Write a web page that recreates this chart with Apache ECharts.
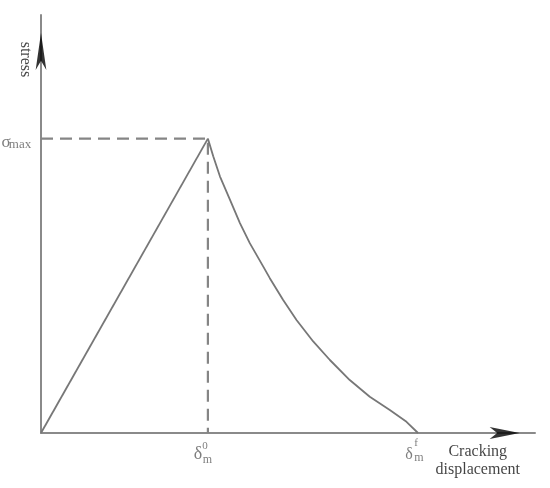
<!DOCTYPE html>
<html>
<head>
<meta charset="utf-8">
<script src="https://cdn.jsdelivr.net/npm/echarts@6/dist/echarts.min.js"></script>
<style>html,body{margin:0;padding:0;background:#fff;}#c{width:550px;height:488px;}</style>
</head>
<body>
<div id="c"></div>
<script>
// ---- data (normalised: peak displacement = 1, sigma max = 1) ----
const deltaPeak = 1;
const deltaFinal = 2.259;
const sigmaMax = 1;
const riseX = [0, 1];
const riseY = [0, 1];
const softX = [1, 1.032, 1.072, 1.132, 1.192, 1.251, 1.331, 1.371, 1.451, 1.531, 1.631, 1.731, 1.850, 1.970, 2.090, 2.190, 2.259];
const softY = [1, 0.940, 0.872, 0.793, 0.713, 0.645, 0.566, 0.526, 0.452, 0.384, 0.311, 0.248, 0.180, 0.123, 0.078, 0.038, 0];
const xAxisMax = 2.96;
const yAxisMax = 1.42;
const xAxisName = ['Cracking', 'displacement'];
const yAxisName = 'stress';
const sigmaText = ['σ', 'max'];
const delta0Text = ['δ', '0', 'm'];
const deltaFText = ['δ', 'f', 'm'];
const xNameAt = 2.623;
const yNameAt = 1.269;
const xArrowAt = 2.868;
const yArrowAt = 1.359;

const serif = 'Liberation Serif, Times New Roman, serif';
const zip = (a, b) => a.map((v, i) => [v, b[i]]);

function txt(x, y, text, size, color, offset, rotate) {
  return {
    value: [x, y],
    label: {
      show: true, position: 'inside', formatter: text,
      fontFamily: serif, fontSize: size, color: color,
      offset: offset, rotate: rotate || 0,
      align: 'center', verticalAlign: 'middle', lineHeight: 18
    }
  };
}

const grey = '#5e5e5e';
const labelData = [
  txt(0, sigmaMax, sigmaText[0], 17, grey, [-35, 4]),
  txt(0, sigmaMax, sigmaText[1], 13, grey, [-21, 6]),
  txt(deltaPeak, 0, delta0Text[0], 18, grey, [-10, 21]),
  txt(deltaPeak, 0, delta0Text[1], 11, grey, [-3, 13]),
  txt(deltaPeak, 0, delta0Text[2], 12, grey, [-0.5, 27]),
  txt(deltaFinal, 0, deltaFText[0], 16, grey, [-9, 22]),
  txt(deltaFinal, 0, deltaFText[1], 11, grey, [-2, 10]),
  txt(deltaFinal, 0, deltaFText[2], 12, grey, [1, 24.5]),
  txt(xNameAt, 0, xAxisName.join('\n'), 16, '#111', [-1, 28]),
  txt(0, yNameAt, yAxisName, 16, '#111', [0, 16], -90)
];

const chart = echarts.init(document.getElementById('c'));
chart.setOption({
  animation: false,
  backgroundColor: '#fff',
  grid: { left: 41, right: 15, top: 15, bottom: 55 },
  xAxis: {
    type: 'value', min: 0, max: xAxisMax,
    axisLine: { show: true, lineStyle: { color: '#8a8a8a', width: 2 } },
    axisTick: { show: false }, axisLabel: { show: false }, splitLine: { show: false }
  },
  yAxis: {
    type: 'value', min: 0, max: yAxisMax,
    axisLine: { show: true, lineStyle: { color: '#8a8a8a', width: 2 } },
    axisTick: { show: false }, axisLabel: { show: false }, splitLine: { show: false }
  },
  series: [
    {
      type: 'line', data: [[0, sigmaMax], [deltaPeak, sigmaMax], [deltaPeak, 0]],
      showSymbol: false, lineStyle: { color: '#858585', width: 2.2, type: [12, 7] }, z: 2
    },
    {
      type: 'line', data: zip(riseX, riseY), showSymbol: false,
      lineStyle: { color: '#777', width: 1.8 }, z: 3
    },
    {
      type: 'line', data: zip(softX, softY), showSymbol: false, smooth: false,
      lineStyle: { color: '#777', width: 1.8, join: 'round' }, z: 3
    },
    {
      type: 'scatter', symbol: 'arrow', clip: false, z: 5,
      itemStyle: { color: '#000' },
      data: [
        { value: [0, yArrowAt], symbolSize: [8, 37], symbolRotate: 0 },
        { value: [xArrowAt, 0], symbolSize: [9, 30], symbolRotate: -90 }
      ]
    },
    {
      type: 'scatter', symbolSize: 1, clip: false, z: 6, silent: true,
      itemStyle: { color: 'rgba(0,0,0,0)' },
      data: labelData
    }
  ]
});
</script>
</body>
</html>
